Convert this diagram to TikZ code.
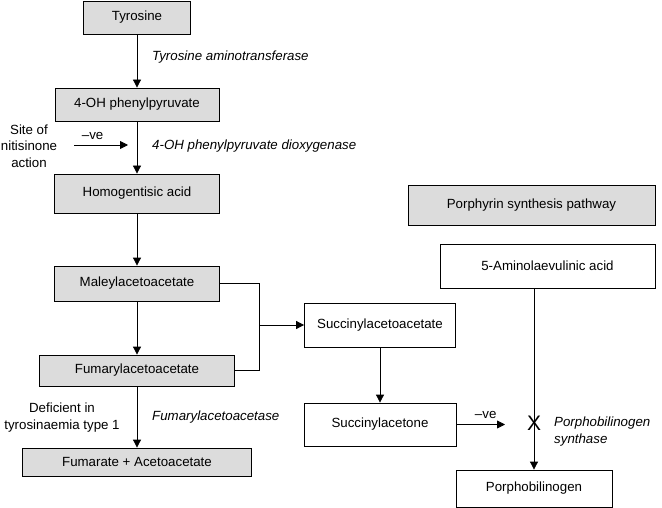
\documentclass[tikz,border=0pt]{standalone}
\usepackage{fontspec}
\setmainfont{Liberation Sans}
\usetikzlibrary{arrows.meta}
\definecolor{boxgrey}{RGB}{220,220,220}
\newcommand{\diagfont}{\fontsize{13.3}{16.5}\selectfont}
\tikzset{
    grey-box/.style = {draw=black, fill=boxgrey, line width=0.8pt, rectangle, inner sep=0pt},
    white-box/.style = {draw=black, fill=white, line width=0.8pt, rectangle, inner sep=0pt},
    enzyme-label/.style = {font=\diagfont\itshape, anchor=west, inner sep=0pt, align=left},
    side-label/.style = {inner sep=0pt, align=center},
    flow/.style = {line width=0.8pt, -{Triangle[length=8pt,width=8pt]}},
    link/.style = {line width=0.8pt},
}

\begin{document}
\begin{tikzpicture}[x=1pt, y=-1pt, font=\diagfont]
\useasboundingbox (0,0) rectangle (662,508);

% tyrosine degradation
\node [grey-box, minimum width=107pt, minimum height=33pt] (tyr) at (137,17.5) {Tyrosine};
\node [grey-box, minimum width=164pt, minimum height=33pt] (ohp) at (137,104.5) {4-OH phenylpyruvate};
\node [grey-box, minimum width=165pt, minimum height=39pt] (hga) at (137,193.5) {Homogentisic acid};
\node [grey-box, minimum width=165pt, minimum height=35pt] (mal) at (137,283.5) {Maleylacetoacetate};
\node [grey-box, minimum width=195pt, minimum height=31pt] (fum) at (137,370.5) {Fumarylacetoacetate};
\node [grey-box, minimum width=229pt, minimum height=28pt] (fa) at (137,462) {Fumarate + Acetoacetate};

\draw [flow] (tyr) -- (ohp);
\draw [flow] (ohp) -- (hga);
\draw [flow] (hga) -- (mal);
\draw [flow] (mal) -- (fum);
\draw [flow] (fum) -- (fa);

\node [enzyme-label] (ta) at (152,57) {Tyrosine aminotransferase};
\node [enzyme-label] (hppd) at (152,146) {4-OH phenylpyruvate dioxygenase};
\node [enzyme-label] (fah) at (152,417) {Fumarylacetoacetase};

\node [side-label] (site) at (29,146) {Site of\\nitisinone\\action};
\coordinate (inh) at (128,145);
\draw [flow, shorten <=17pt] (site.east |- inh) -- node [above=5pt, inner sep=0pt] {--ve} (inh);
\node [side-label] (def) at (62,417.5) {Deficient in\\tyrosinaemia type 1};

% succinylacetone branch
\node [white-box, minimum width=151pt, minimum height=44pt] (saa) at (380,325) {Succinylacetoacetate};
\node [white-box, minimum width=152pt, minimum height=43pt] (sac) at (380,424.5) {Succinylacetone};
\coordinate (jn) at (259,325);
\draw [link] (mal.east) -| (jn);
\draw [link] (fum.east) -| (jn);
\draw [flow] (jn) -- (saa.west);
\draw [flow] (saa) -- (sac);

% porphyrin synthesis
\node [grey-box, minimum width=247pt, minimum height=40pt] (por) at (531.5,205) {Porphyrin synthesis pathway};
\node [white-box, minimum width=215pt, minimum height=44pt] (ala) at (547.5,266) {5-Aminolaevulinic acid};
\node [white-box, minimum width=156pt, minimum height=37pt] (pbg) at (534,488.5) {Porphobilinogen};
\draw [flow] (ala.south -| pbg.north) -- (pbg.north);
\node [inner sep=0pt, font=\fontsize{21}{21}\selectfont] (blk) at (534,423) {X};
\coordinate (stop) at (505,424.5);
\draw [flow] (sac.east) -- node [above=5pt, inner sep=0pt, xshift=5pt] {--ve} (stop);
\node [enzyme-label] (pbgs) at (554,431.5) {Porphobilinogen\\synthase};
\end{tikzpicture}
\end{document}
